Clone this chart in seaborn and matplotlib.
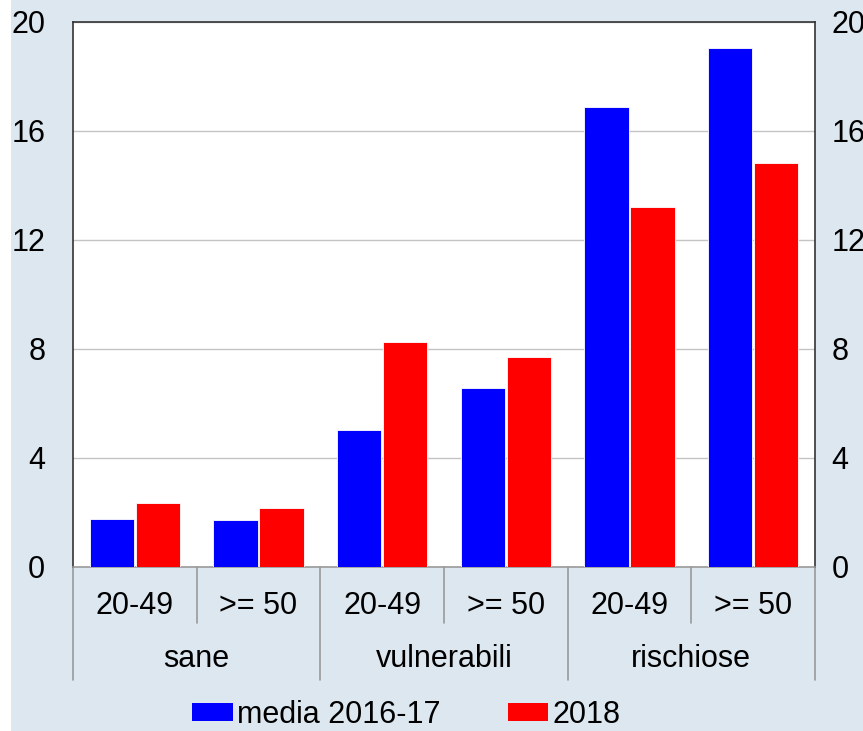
import pandas as pd
import seaborn as sns
import matplotlib.pyplot as plt
from matplotlib.patches import Rectangle

# data
groups = ['sane', 'vulnerabili', 'rischiose']
classes = ['20-49', '>= 50']
series = ['media 2016-17', '2018']
media_2016_17 = [1.75, 1.72, 5.03, 6.57, 16.88, 19.03]
anno_2018 = [2.36, 2.15, 8.26, 7.70, 13.21, 14.81]
y_ticks = [0, 4, 8, 12, 16, 20]

bg = '#dce7f0'

# long table for seaborn
labels = [g + ' ' + c for g in groups for c in classes]
df = pd.DataFrame({
    'cat': labels * 2,
    'serie': [series[0]] * 6 + [series[1]] * 6,
    'val': media_2016_17 + anno_2018,
})

sns.set_style('white')
plt.rcParams['font.family'] = ['Liberation Sans', 'DejaVu Sans']
plt.rcParams['text.color'] = 'black'
plt.rcParams['ytick.color'] = 'black'

fig = plt.figure(figsize=(8.63, 7.31), dpi=100, facecolor='white')
fig.patches.append(Rectangle((11 / 863, 0), 1, 1, transform=fig.transFigure,
                             facecolor=bg, edgecolor='none', zorder=-10))
ax = fig.add_axes([73 / 863, 1 - 567 / 731, (815 - 73) / 863, (567 - 22) / 731])

sns.barplot(data=df, x='cat', y='val', hue='serie', order=labels,
            palette=['#0000ff', '#ff0000'], saturation=1, width=0.74, gap=0.03,
            edgecolor='#ffffff', linewidth=0.6, ax=ax, zorder=3)

ax.set_ylim(0, 20)
ax.set_xlim(-0.5, 5.5)
ax.set_yticks(y_ticks)
ax.set_yticklabels([str(t) for t in y_ticks], fontsize=22, color='black')
ax.tick_params(axis='y', length=0, pad=20)
ax.yaxis.grid(True, color='#c4c4c4', linewidth=1, zorder=0)
ax.set_xticks([])
ax.set_xlabel('')
ax.set_ylabel('')
ax.legend_.remove()

for s in ['left', 'top', 'right']:
    ax.spines[s].set_color('#333333')
    ax.spines[s].set_linewidth(1.2)
ax.spines['bottom'].set_color('#999999')
ax.spines['bottom'].set_linewidth(1.2)

# right axis copy of the ticks
ax2 = ax.twinx()
ax2.set_ylim(0, 20)
ax2.set_yticks(y_ticks)
ax2.set_yticklabels([str(t) for t in y_ticks], fontsize=22, color='black')
ax2.tick_params(axis='y', length=0, pad=12)
for s in ax2.spines.values():
    s.set_visible(False)

# two-level category labels below the axis
tr = ax.get_xaxis_transform()
for i, lab in enumerate(labels):
    ax.text(i, -0.072, classes[i % 2], transform=tr, ha='center', va='center',
            fontsize=22, color='black')
for j, g in enumerate(groups):
    ax.text(2 * j + 0.5, -0.168, g, transform=tr, ha='center', va='center',
            fontsize=22, color='black')
for k in range(7):
    x = k - 0.5
    bottom = -0.207 if k % 2 == 0 else -0.103
    ax.plot([x, x], [0, bottom], transform=tr, color='#999999', lw=1.2,
            clip_on=False)

handles = [Rectangle((0, 0), 1, 1, facecolor=c, edgecolor='none')
           for c in ['#0000ff', '#ff0000']]
fig.legend(handles, series, loc='center', bbox_to_anchor=(0.471, 0.022),
           ncol=2, frameon=False, fontsize=22, handlelength=1.32,
           handleheight=0.5, handletextpad=0.15, columnspacing=2.2,
           borderpad=0, borderaxespad=0)

fig.savefig('out.png', dpi=100, facecolor='white')
